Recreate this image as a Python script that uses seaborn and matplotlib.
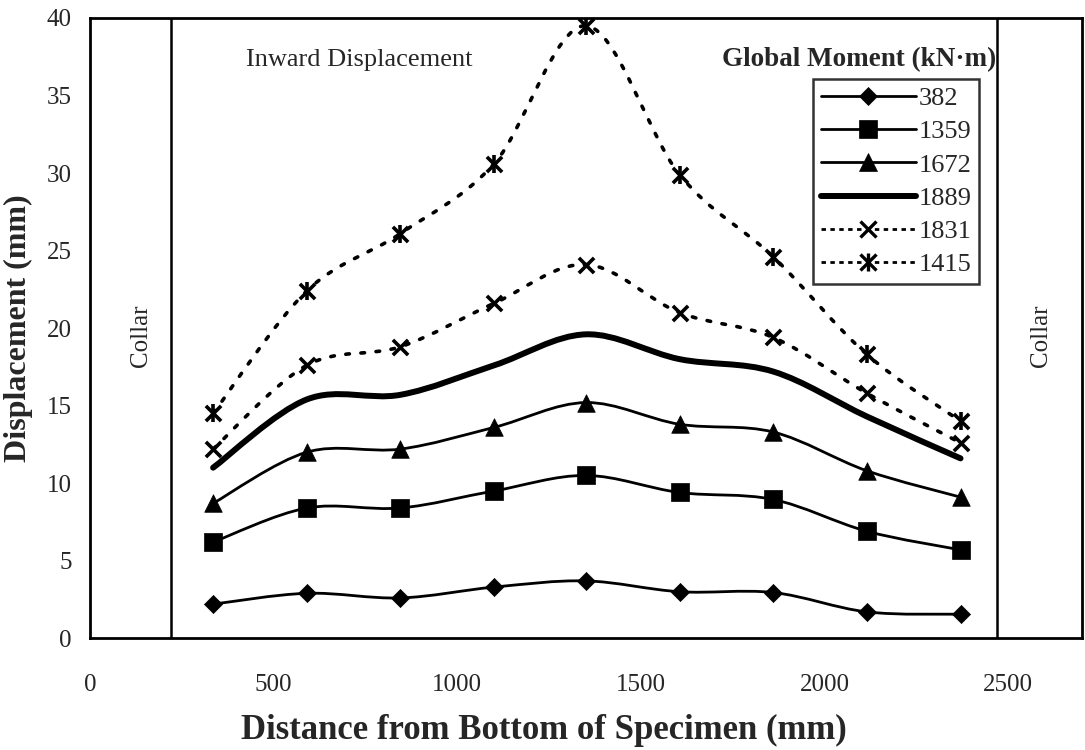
import numpy as np
import pandas as pd
import matplotlib
matplotlib.use("Agg")
import matplotlib.pyplot as plt
from matplotlib.path import Path
from matplotlib.patches import PathPatch
from matplotlib.lines import Line2D
import seaborn as sns

# ---- data ----
distance = [335, 590, 845, 1100, 1350, 1605, 1860, 2115, 2370]
m382 = [2.2, 2.9, 2.6, 3.3, 3.7, 3.0, 2.95, 1.7, 1.55]
m1359 = [6.2, 8.4, 8.4, 9.5, 10.5, 9.4, 8.95, 6.9, 5.7]
m1672 = [8.7, 12.0, 12.2, 13.6, 15.2, 13.8, 13.3, 10.8, 9.1]
m1889 = [11.0, 15.4, 15.7, 17.6, 19.6, 18.0, 17.2, 14.3, 11.6]
m1831 = [12.2, 17.6, 18.8, 21.6, 24.1, 21.0, 19.4, 15.8, 12.6]
m1415 = [14.5, 22.4, 26.1, 30.6, 39.5, 29.9, 24.6, 18.3, 14.0]
series_names = ["382", "1359", "1672", "1889", "1831", "1415"]
series_vals = [m382, m1359, m1672, m1889, m1831, m1415]
collar_positions = [220, 2470]
x_ticks = [0, 500, 1000, 1500, 2000, 2500]
y_ticks = [0, 5, 10, 15, 20, 25, 30, 35, 40]

sns.set_style("white")
plt.rcParams["font.family"] = ["Liberation Serif", "DejaVu Serif"]

fig = plt.figure(figsize=(10.85, 7.5), dpi=100)
ax = fig.add_axes([0.083, 0.149, 0.914, 0.827])

DOT = (0, (1.0, 3.2))
styles = {
    "382": dict(markers=["D"], s=85, lw=2.0, ls="-"),
    "1359": dict(markers=["s"], s=150, lw=2.0, ls="-"),
    "1672": dict(markers=["^"], s=160, lw=2.0, ls="-"),
    "1889": dict(markers=[], s=0, lw=4.3, ls="-"),
    "1831": dict(markers=["x"], s=120, lw=2.6, ls=DOT),
    "1415": dict(markers=["x", "|"], s=120, lw=2.6, ls=DOT),
}


def smooth_path(xs, ys):
    pts = np.column_stack([xs, ys]).astype(float)
    n = len(pts)
    verts = [pts[0]]
    codes = [Path.MOVETO]
    for i in range(n - 1):
        p0 = pts[i - 1] if i > 0 else pts[i]
        p1 = pts[i]
        p2 = pts[i + 1]
        p3 = pts[i + 2] if i + 2 < n else pts[i + 1]
        c1 = p1 + (p2 - p0) / 6.0
        c2 = p2 - (p3 - p1) / 6.0
        verts += [c1, c2, p2]
        codes += [Path.CURVE4] * 3
    return Path(verts, codes)


handles = []
for name, vals in zip(series_names, series_vals):
    st = styles[name]
    patch = PathPatch(smooth_path(distance, vals), fill=False, edgecolor="black",
                      lw=st["lw"], linestyle=st["ls"], capstyle="round", zorder=3)
    ax.add_patch(patch)
    df = pd.DataFrame({"x": distance, "y": vals})
    for mk in st["markers"]:
        if mk in ("x", "|"):
            sns.scatterplot(data=df, x="x", y="y", marker=mk,
                            s=(st["s"] * 1.3 if mk == "|" else st["s"]),
                            color="black", linewidth=2.6, ax=ax, zorder=4)
        else:
            sns.scatterplot(data=df, x="x", y="y", marker=mk, s=st["s"],
                            color="black", edgecolor="black", linewidth=0.5, ax=ax, zorder=4)
    dotted = name in ("1831", "1415")
    parts = []
    lw_leg = 4.3 if name == "1889" else 2.0
    ls_leg = (0, (1.6, 1.6)) if dotted else "-"
    if not st["markers"]:
        parts.append(Line2D([], [], color="black", lw=lw_leg, linestyle=ls_leg))
    for j, mk in enumerate(st["markers"]):
        ms = np.sqrt(st["s"]) * (1.3 ** 0.5 if mk == "|" else 1.0)
        parts.append(Line2D([], [], color="black", lw=lw_leg if j == 0 else 0,
                            linestyle=ls_leg if j == 0 else "none", marker=mk, markersize=ms,
                            markeredgewidth=(2.4 if mk in ("x", "|") else 0.5)))
    handles.append(tuple(parts) if len(parts) > 1 else parts[0])

for cx in collar_positions:
    ax.axvline(cx, color="black", lw=1.8, zorder=2)

ax.set_xlim(0, 2700)
ax.set_ylim(0, 40)
ax.set_xticks(x_ticks)
ax.set_yticks(y_ticks)
ax.tick_params(axis="x", direction="in", length=7, width=1.5, pad=26, labelsize=18)
ax.tick_params(axis="y", direction="in", length=7, width=1.5, pad=13, labelsize=18)
for sp in ax.spines.values():
    sp.set_visible(True)
    sp.set_color("black")
    sp.set_linewidth(2.0)

ax.set_xlabel("Distance from Bottom of Specimen (mm)", fontsize=25, fontweight="bold")
ax.xaxis.set_label_coords(0.458, -0.122)
ax.set_ylabel("Displacement (mm)", fontsize=23, fontweight="bold", labelpad=10)

ax.text(140, 19.5, "Collar", rotation=90, ha="center", va="center", fontsize=18)
ax.text(2590, 19.5, "Collar", rotation=90, ha="center", va="center", fontsize=18)
ax.text(425, 37.3, "Inward Displacement", ha="left", va="center", fontsize=19)
ax.text(2468, 37.3, "Global Moment (kN·m)", ha="right", va="center", fontsize=19.5, fontweight="bold")

leg = ax.legend(handles=handles, labels=series_names, loc="upper left",
                bbox_to_anchor=(0.729, 0.902), fontsize=19, frameon=True, fancybox=False,
                edgecolor="black", handlelength=3.6, handletextpad=0.1, labelspacing=0.37,
                borderpad=0.3, borderaxespad=0)
leg.get_frame().set_linewidth(1.8)

fig.savefig("out.png", dpi=100)
